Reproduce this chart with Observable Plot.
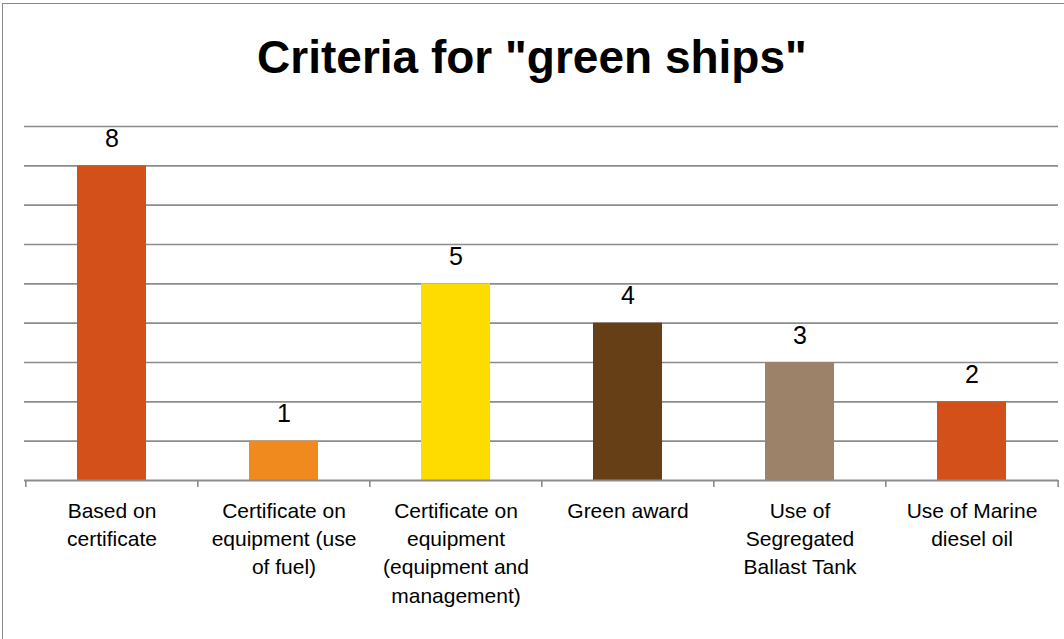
<!DOCTYPE html>
<html>
<head>
<meta charset="utf-8">
<script src="https://cdn.jsdelivr.net/npm/d3@7"></script>
<script src="https://cdn.jsdelivr.net/npm/@observablehq/plot@0.6"></script>
<style>
  html, body { margin: 0; padding: 0; background: #fff; }
  #wrap { position: relative; width: 1064px; height: 639px; overflow: hidden; font-family: "Liberation Sans", Arial, sans-serif; }
  #frame { position: absolute; left: 2px; top: 3px; width: 1100px; height: 700px; border-left: 1.5px solid #8a8a8a; border-top: 1.5px solid #8a8a8a; box-sizing: border-box; }
  #title { position: absolute; left: 0; top: 0; width: 1064px; height: 100px; text-align: center; font-weight: bold; font-size: 46px; line-height: 1; color: #000; }
  #title span { position: absolute; left: 0; right: 0; top: 43px; transform: translateY(-0.2em); }
  #chart { position: absolute; left: 0; top: 100px; }
</style>
</head>
<body>
<div id="wrap">
  <div id="frame"></div>
  <div id="title"><span>Criteria for "green ships"</span></div>
  <div id="chart"></div>
</div>
<script>
const categories = [
  "Based on certificate",
  "Certificate on equipment (use of fuel)",
  "Certificate on equipment (equipment and management)",
  "Green award",
  "Use of Segregated Ballast Tank",
  "Use of Marine diesel oil"
];
const tickLabels = [
  "Based on\ncertificate",
  "Certificate on\nequipment (use\nof fuel)",
  "Certificate on\nequipment\n(equipment and\nmanagement)",
  "Green award",
  "Use of\nSegregated\nBallast Tank",
  "Use of Marine\ndiesel oil"
];
const values = [8, 1, 5, 4, 3, 2];
const colors = ["#D4501A", "#F08A1F", "#FFDC00", "#673F17", "#9C8269", "#D4501A"];
const gridValues = [1, 2, 3, 4, 5, 6, 7, 8, 9];

const data = categories.map((c, i) => ({category: c, value: values[i], label: tickLabels[i], color: colors[i]}));

const W = 1064, H = 539, mL = 24, mR = 6, mT = 26, mB = 159;
const step = (W - mL - mR) / categories.length;
const gray = "#8c8c8c";

const chart = Plot.plot({
  width: W,
  height: H,
  marginLeft: mL,
  marginRight: mR,
  marginTop: mT,
  marginBottom: mB,
  style: {fontFamily: "'Liberation Sans', Arial, sans-serif", background: "transparent", overflow: "visible"},
  x: {domain: categories, paddingInner: 0.6, paddingOuter: 0.3, axis: null},
  y: {domain: [0, 9], axis: null},
  marks: [
    Plot.ruleY(gridValues, {stroke: gray, strokeWidth: 1.6}),
    Plot.barY(data, {x: "category", y: "value", fill: "color"}),
    Plot.ruleY([0], {stroke: gray, strokeWidth: 2}),
    Plot.ruleX(categories, {x: d => d, y1: 0, y2: -0.18, dx: -step / 2, stroke: gray, strokeWidth: 1.6}),
    Plot.ruleX(categories.slice(-1), {x: d => d, y1: 0, y2: -0.18, dx: step / 2, stroke: gray, strokeWidth: 1.6}),
    Plot.text(data, {x: "category", y: "value", text: d => String(d.value), dy: -27, fontSize: 25, fill: "#000"}),
    Plot.text(data, {x: "category", y: () => 0, text: "label", lineAnchor: "top", dy: 17, fontSize: 21, lineHeight: 1.35, fill: "#000"})
  ]
});
document.getElementById("chart").appendChild(chart);
</script>
</body>
</html>
